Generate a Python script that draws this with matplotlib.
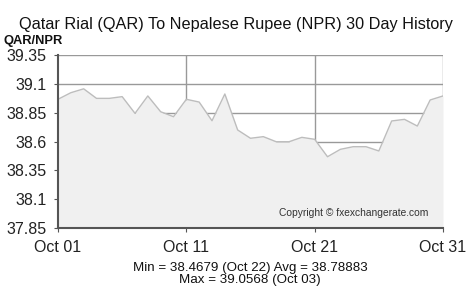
import matplotlib
matplotlib.use('Agg')
import matplotlib.pyplot as plt

plt.rcParams['font.family'] = ['Liberation Sans', 'DejaVu Sans']

# daily QAR/NPR rates, Oct 01 .. Oct 31
days = list(range(31))
rates = [38.966, 39.023, 39.0568, 38.974, 38.974, 38.989, 38.844, 38.995,
         38.858, 38.815, 38.966, 38.942, 38.780, 39.012, 38.700, 38.628,
         38.642, 38.598, 38.598, 38.636, 38.619, 38.4679, 38.532, 38.555,
         38.555, 38.518, 38.778, 38.792, 38.734, 38.960, 38.995]
yticks = [37.85, 38.1, 38.35, 38.6, 38.85, 39.1, 39.35]
ytick_labels = ['37.85', '38.1', '38.35', '38.6', '38.85', '39.1', '39.35']
xticks = [0, 10, 20, 30]
xtick_labels = ['Oct 01', 'Oct 11', 'Oct 21', 'Oct 31']

fig = plt.figure(figsize=(4.74, 2.92), dpi=100)
fig.patch.set_facecolor('white')
ax = fig.add_axes([58 / 474, 1 - 228 / 292, (443 - 58) / 474, (228 - 55) / 292])

ax.set_xlim(0, 30)
ax.set_ylim(37.85, 39.35)

# grid under the fill
for y in [38.6, 38.85, 39.1, 39.35]:
    ax.axhline(y, color='#999999', lw=1.0, zorder=1)
for x in [10, 20, 30]:
    ax.axvline(x, color='#999999', lw=1.0, zorder=1)

ax.fill_between(days, rates, 37.85, color='#f0f0f0', lw=0, zorder=2)
ax.plot(days, rates, color='#bdbdbd', lw=1.0, zorder=3)

for s in ['top', 'right']:
    ax.spines[s].set_visible(False)
for s in ['left', 'bottom']:
    ax.spines[s].set_color('#555555')
    ax.spines[s].set_linewidth(1.5)
    ax.spines[s].set_zorder(4)

ax.set_yticks(yticks)
ax.set_yticklabels(ytick_labels)
ax.set_xticks(xticks)
ax.set_xticklabels(xtick_labels)
ax.tick_params(axis='both', length=3, width=0.8, color='#555555',
               labelsize=11.5, labelcolor='#222222')
ax.tick_params(axis='y', pad=5)
ax.tick_params(axis='x', pad=6)

ax.text(0.961, 0.06, 'Copyright \u00a9 fxexchangerate.com', transform=ax.transAxes,
        ha='right', va='bottom', fontsize=7.4, color='#333333', zorder=5)

fig.text(236 / 474, 1 - 24 / 292, 'Qatar Rial (QAR) To Nepalese Rupee (NPR) 30 Day History',
         ha='center', va='center', fontsize=11.7, color='#111111')
fig.text(3 / 474, 1 - 41 / 292, 'QAR/NPR', ha='left', va='center',
         fontsize=9.3, fontweight='bold', color='#111111')

vmin = min(rates)
vmax = max(rates)
avg = 38.78883
fig.text(250 / 474, 1 - 267.5 / 292,
         f'Min = {vmin:.4f} (Oct {days[rates.index(vmin)] + 1:02d}) Avg = {avg:.5f}',
         ha='center', va='center', fontsize=9.6, color='#111111')
fig.text(250 / 474, 1 - 279.5 / 292,
         f'Max = {vmax:.4f} (Oct {days[rates.index(vmax)] + 1:02d})',
         ha='center', va='center', fontsize=9.6, color='#111111')

fig.savefig('out.png', dpi=100, facecolor='white')
